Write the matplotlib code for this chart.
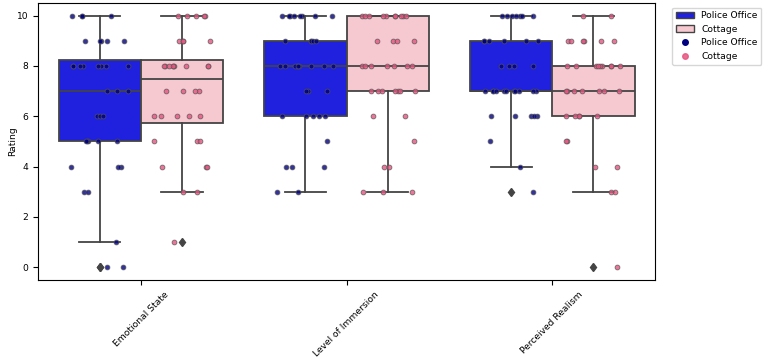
import numpy as np
import matplotlib.pyplot as plt
from matplotlib.patches import Patch
from matplotlib.lines import Line2D

plt.rcParams['font.size'] = 6.6

categories = ["Emotional State", "Level of Immersion", "Perceived Realism"]
groups = ["Police Office", "Cottage"]

# ratings as (value, count) pairs read from the strip points
police_emotional = [(0, 2), (1, 1), (3, 2), (4, 3), (5, 5), (6, 3), (7, 3), (8, 8), (9, 5), (10, 4)]
cottage_emotional = [(1, 1), (3, 2), (4, 3), (5, 3), (6, 5), (7, 4), (8, 9), (9, 4), (10, 5)]
police_immersion = [(3, 2), (4, 3), (5, 1), (6, 5), (7, 3), (8, 9), (9, 5), (10, 8)]
cottage_immersion = [(3, 3), (4, 2), (5, 1), (6, 2), (7, 7), (8, 7), (9, 4), (10, 10)]
police_realism = [(3, 1), (4, 1), (5, 1), (6, 5), (7, 11), (8, 4), (9, 6), (10, 7)]
cottage_realism = [(0, 1), (3, 2), (4, 2), (5, 2), (6, 5), (7, 7), (8, 9), (9, 6), (10, 2)]

data = {
    "Police Office": [police_emotional, police_immersion, police_realism],
    "Cottage": [cottage_emotional, cottage_immersion, cottage_realism],
}

box_colors = {"Police Office": "#2020df", "Cottage": "#f6c8d0"}
point_colors = {"Police Office": "navy", "Cottage": "#e75480"}
offsets = {"Police Office": -0.2, "Cottage": 0.2}
edge = "#444444"


def expand(pairs):
    return np.repeat([v for v, c in pairs], [c for v, c in pairs]).astype(float)


fig = plt.figure(figsize=(7.68, 3.57), dpi=100)
ax = fig.add_axes([0.0495, 0.216, 0.8035, 0.7756])

rng = np.random.default_rng(7)
for g in groups:
    vals = [expand(p) for p in data[g]]
    pos = np.arange(len(categories)) + offsets[g]
    ax.boxplot(vals, positions=pos, widths=0.4, patch_artist=True,
               boxprops=dict(facecolor=box_colors[g], edgecolor=edge, linewidth=1.3),
               medianprops=dict(color=edge, linewidth=1.3),
               whiskerprops=dict(color=edge, linewidth=1.3),
               capprops=dict(color=edge, linewidth=1.3),
               flierprops=dict(marker="d", markerfacecolor=edge, markeredgecolor=edge,
                               markersize=4.5),
               manage_ticks=False, zorder=2)
for g in groups:
    vals = [expand(p) for p in data[g]]
    for i, v in enumerate(vals):
        x = i + offsets[g] + rng.uniform(-0.14, 0.14, len(v))
        ax.scatter(x, v, s=12, color=point_colors[g], alpha=0.8,
                   edgecolor="#555555", linewidth=0.6, zorder=3)

ax.set_xlim(-0.5, 2.5)
ax.set_ylim(-0.5, 10.5)
ax.set_xticks(range(len(categories)))
ax.set_xticklabels(categories, rotation=45)
ax.set_yticks([0, 2, 4, 6, 8, 10])
ax.set_ylabel("Rating", labelpad=0)

handles = [
    Patch(facecolor=box_colors["Police Office"], edgecolor=edge, label="Police Office"),
    Patch(facecolor=box_colors["Cottage"], edgecolor=edge, label="Cottage"),
    Line2D([], [], marker="o", linestyle="none", color="navy", markersize=4, label="Police Office"),
    Line2D([], [], marker="o", linestyle="none", color="#e75480", alpha=0.85, markersize=4, label="Cottage"),
]
ax.legend(handles=handles, loc="upper left", bbox_to_anchor=(1.02, 1.0))

fig.savefig("out.png", dpi=100)
